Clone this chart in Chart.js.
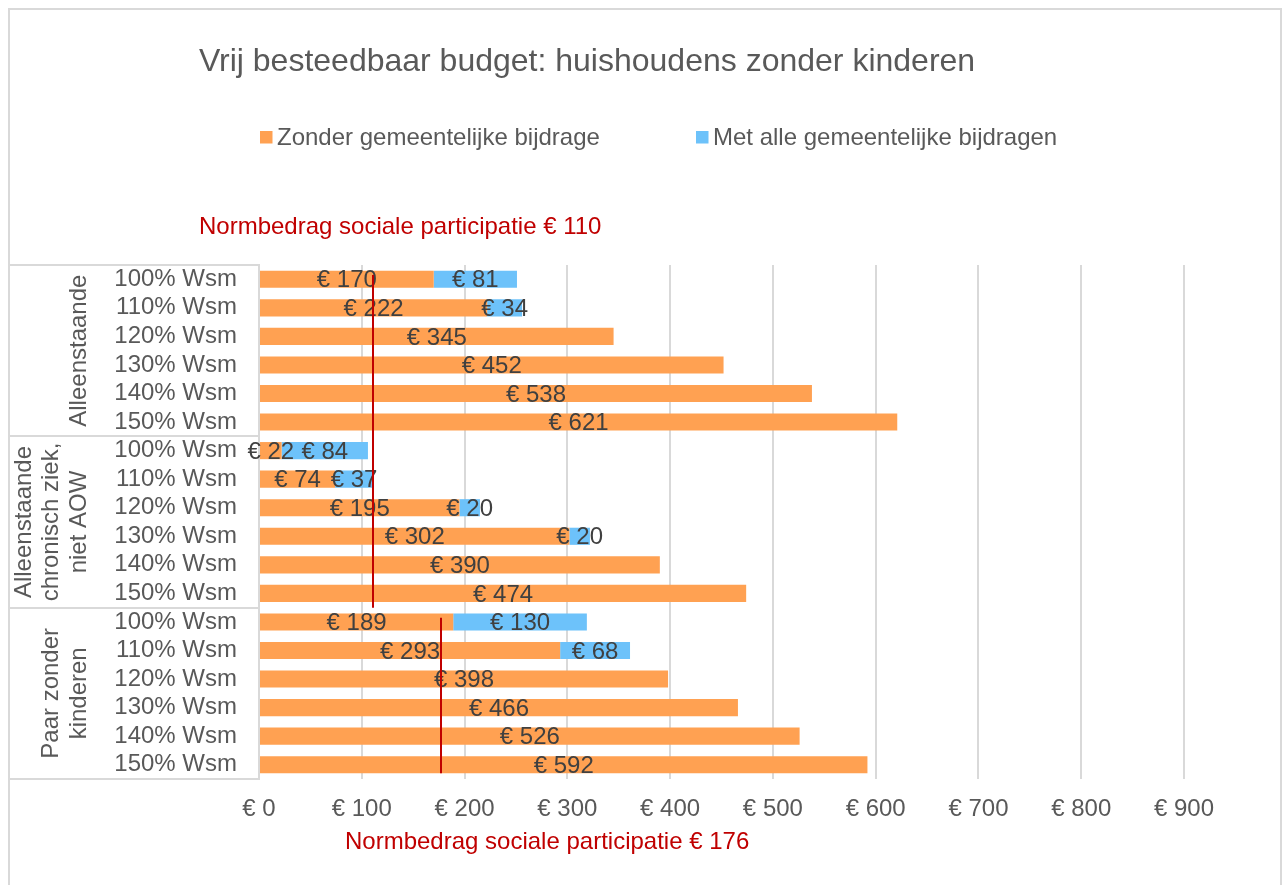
<!DOCTYPE html>
<html>
<head>
<meta charset="utf-8">
<script src="https://cdn.jsdelivr.net/npm/chart.js@4/dist/chart.umd.min.js"></script>
<style>
  html, body { margin: 0; padding: 0; background: #ffffff; }
  #wrap { position: absolute; left: 0; top: 0; width: 1283px; height: 885px; }
</style>
</head>
<body>
<div id="wrap"><canvas id="c" width="1283" height="885"></canvas></div>
<script>
// ---- Data ----
const categories = [
  '100% Wsm','110% Wsm','120% Wsm','130% Wsm','140% Wsm','150% Wsm',
  '100% Wsm','110% Wsm','120% Wsm','130% Wsm','140% Wsm','150% Wsm',
  '100% Wsm','110% Wsm','120% Wsm','130% Wsm','140% Wsm','150% Wsm'
];
const groupLabels = [
  ['Alleenstaande'],
  ['Alleenstaande', 'chronisch ziek,', 'niet AOW'],
  ['Paar zonder', 'kinderen']
];
const groupSize = 6;
const zonderBijdrage = [170, 222, 345, 452, 538, 621, 22, 74, 195, 302, 390, 474, 189, 293, 398, 466, 526, 592];
const metBijdragen   = [81, 34, 0, 0, 0, 0, 84, 37, 20, 20, 0, 0, 130, 68, 0, 0, 0, 0];
const seriesNames = ['Zonder gemeentelijke bijdrage', 'Met alle gemeentelijke bijdragen'];
const xMin = 0, xMax = 900, xStep = 100;
const normValues = [110, 176];
const normRows = [[0, 11], [12, 17]];
const normTexts = ['Normbedrag sociale participatie € 110', 'Normbedrag sociale participatie € 176'];
const titleText = 'Vrij besteedbaar budget: huishoudens zonder kinderen';

// ---- Styles ----
const FONT = '"Liberation Sans", Arial, sans-serif';
const ORANGE = '#FFA152';
const BLUE = '#6DC2FA';
const GRID = '#D9D9D9';
const TXT = '#595959';
const LBL = '#404040';
const RED = '#C00000';
const normOffsets = [[-0.15, 0.5], [-0.15, 0.3]];

const decorPlugin = {
  id: 'decor',
  beforeDraw(chart) {
    const ctx = chart.ctx;
    const area = chart.chartArea;
    ctx.save();
    // outer border
    ctx.strokeStyle = GRID;
    ctx.lineWidth = 2;
    ctx.strokeRect(9, 9, 1272, 890);
    // category table lines
    const y = chart.scales.y;
    ctx.lineWidth = 2;
    for (let g = 0; g <= groupLabels.length; g++) {
      const yy = Math.round(y.getPixelForValue(g * groupSize - 0.5));
      ctx.beginPath();
      ctx.moveTo(9, yy);
      ctx.lineTo(area.left, yy);
      ctx.stroke();
    }
    ctx.restore();
  },
  afterDatasetsDraw(chart) {
    const ctx = chart.ctx;
    const x = chart.scales.x;
    const y = chart.scales.y;
    ctx.save();
    // data labels
    ctx.font = '24px ' + FONT;
    ctx.fillStyle = LBL;
    ctx.textAlign = 'center';
    ctx.textBaseline = 'middle';
    chart.data.datasets.forEach((ds, di) => {
      const meta = chart.getDatasetMeta(di);
      meta.data.forEach((el, i) => {
        const v = ds.data[i];
        if (!v) return;
        ctx.fillText('€ ' + v, (el.x + el.base) / 2, el.y + 1.5);
      });
    });
    // normative lines
    ctx.strokeStyle = RED;
    ctx.lineWidth = 2;
    normValues.forEach((v, k) => {
      const px = Math.round(x.getPixelForValue(v)) + 1;
      const y0 = y.getPixelForValue(normRows[k][0] + normOffsets[k][0]);
      const y1 = y.getPixelForValue(normRows[k][1] + normOffsets[k][1]);
      ctx.beginPath();
      ctx.moveTo(px, y0);
      ctx.lineTo(px, y1);
      ctx.stroke();
    });
    ctx.restore();
  },
  afterDraw(chart) {
    const ctx = chart.ctx;
    const y = chart.scales.y;
    ctx.save();
    // title
    ctx.font = '32px ' + FONT;
    ctx.fillStyle = TXT;
    ctx.textAlign = 'center';
    ctx.textBaseline = 'alphabetic';
    ctx.fillText(titleText, 587, 71);
    // legend
    ctx.font = '24px ' + FONT;
    ctx.textAlign = 'left';
    const legendItems = [
      { box: 260, text: 277, color: ORANGE },
      { box: 696, text: 713, color: BLUE }
    ];
    legendItems.forEach((it, k) => {
      ctx.fillStyle = it.color;
      ctx.fillRect(it.box, 131, 12.5, 12.5);
      ctx.fillStyle = TXT;
      ctx.fillText(seriesNames[k], it.text, 145);
    });
    // norm annotations
    ctx.fillStyle = RED;
    ctx.fillText(normTexts[0], 199, 234);
    ctx.fillText(normTexts[1], 345, 849);
    // group labels (rotated)
    ctx.fillStyle = TXT;
    ctx.textAlign = 'center';
    ctx.textBaseline = 'middle';
    groupLabels.forEach((lines, g) => {
      const cy = (y.getPixelForValue(g * groupSize - 0.5) + y.getPixelForValue(g * groupSize + groupSize - 0.5)) / 2;
      const n = lines.length;
      lines.forEach((ln, j) => {
        const cx = 79 - (n - 1 - j) * 27.5;
        ctx.save();
        ctx.translate(cx, cy);
        ctx.rotate(-Math.PI / 2);
        ctx.fillText(ln, 0, 0);
        ctx.restore();
      });
    });
    ctx.restore();
  }
};

new Chart(document.getElementById('c'), {
  type: 'bar',
  data: {
    labels: categories,
    datasets: [
      { label: seriesNames[0], data: zonderBijdrage, backgroundColor: ORANGE, barPercentage: 0.6, categoryPercentage: 1.0 },
      { label: seriesNames[1], data: metBijdragen, backgroundColor: BLUE, barPercentage: 0.6, categoryPercentage: 1.0 }
    ]
  },
  options: {
    indexAxis: 'y',
    responsive: false,
    animation: false,
    devicePixelRatio: 1,
    layout: { padding: { left: 0, right: 99, top: 265, bottom: 46 } },
    plugins: {
      legend: { display: false },
      title: { display: false },
      tooltip: { enabled: false }
    },
    scales: {
      x: {
        stacked: true,
        min: xMin,
        max: xMax,
        ticks: {
          stepSize: xStep,
          padding: 16,
          color: TXT,
          font: { family: FONT, size: 24 },
          callback: v => '€ ' + v
        },
        grid: { color: GRID, lineWidth: 2, drawTicks: false },
        border: { display: false },
        afterFit(scale) { scale.height = 60; }
      },
      y: {
        stacked: true,
        ticks: {
          padding: 22,
          color: TXT,
          font: { family: FONT, size: 24 },
          autoSkip: false
        },
        grid: { display: false, drawTicks: false },
        border: { display: true, color: GRID, width: 2 },
        afterFit(scale) { scale.width = 259; }
      }
    }
  },
  plugins: [decorPlugin]
});
</script>
</body>
</html>
